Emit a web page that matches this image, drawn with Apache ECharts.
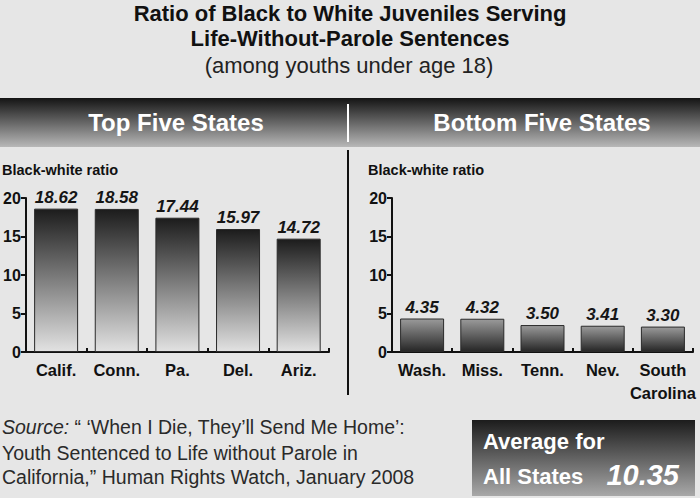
<!DOCTYPE html>
<html>
<head>
<meta charset="utf-8">
<script src="https://cdn.jsdelivr.net/npm/echarts@6/dist/echarts.min.js"></script>
<style>
html,body{margin:0;padding:0;background:#e6e6e6;}
#c{width:700px;height:498px;}
</style>
</head>
<body>
<div id="c"></div>
<script>
var topStates = ['Calif.', 'Conn.', 'Pa.', 'Del.', 'Ariz.'];
var topValues = [18.62, 18.58, 17.44, 15.97, 14.72];
var bottomStates = ['Wash.', 'Miss.', 'Tenn.', 'Nev.', 'South\nCarolina'];
var bottomValues = [4.35, 4.32, 3.50, 3.41, 3.30];
var yMin = 0, yMax = 20, yStep = 5;
var averageAll = 10.35;

var FONT = '"Liberation Sans", Arial, Helvetica, sans-serif';
var chart = echarts.init(document.getElementById('c'), null, {renderer: 'svg', width: 700, height: 498});

function grad(c1, c2) {
  return new echarts.graphic.LinearGradient(0, 0, 0, 1, [{offset: 0, color: c1}, {offset: 1, color: c2}]);
}

function xAx(idx, cats) {
  return {
    type: 'category', gridIndex: idx, data: cats, boundaryGap: true,
    axisLine: {show: true, lineStyle: {color: '#111', width: 2}},
    axisTick: {show: true, inside: true, length: 4, lineStyle: {color: '#111', width: 2}},
    axisLabel: {color: '#111', fontFamily: FONT, fontWeight: 'bold', fontSize: 16.5, margin: 6, lineHeight: 23, interval: 0}
  };
}
function yAx(idx) {
  return {
    type: 'value', gridIndex: idx, min: yMin, max: yMax, interval: yStep,
    axisLine: {show: true, lineStyle: {color: '#111', width: 2}},
    axisTick: {show: true, length: 5, lineStyle: {color: '#111', width: 2}},
    axisLabel: {color: '#111', fontFamily: FONT, fontWeight: 'bold', fontSize: 16, margin: 5},
    splitLine: {show: false}
  };
}
function barSeries(idx, vals, c1, c2) {
  return {
    type: 'bar', xAxisIndex: idx, yAxisIndex: idx, data: vals, barWidth: 44,
    itemStyle: {color: grad(c1, c2), borderColor: '#2a2a2a', borderWidth: 1},
    label: {show: true, position: 'top', distance: 3, color: '#151515', fontFamily: FONT,
      fontWeight: 'bold', fontStyle: 'italic', fontSize: 17,
      formatter: function (p) { return p.value.toFixed(2); }},
    animation: false
  };
}

var option = {
  backgroundColor: '#e6e6e6',
  animation: false,
  grid: [
    {left: 25, right: 371, top: 198, bottom: 146},
    {left: 392, right: 7, top: 198, bottom: 146}
  ],
  xAxis: [xAx(0, topStates), xAx(1, bottomStates)],
  yAxis: [yAx(0), yAx(1)],
  series: [
    barSeries(0, topValues, '#1c1c1c', '#e2e2e2'),
    barSeries(1, bottomValues, '#9a9a9a', '#262626')
  ],
  graphic: [
    {type: 'text', x: 350, y: 13, style: {text: 'Ratio of Black to White Juveniles Serving', font: 'bold 22px ' + FONT, fill: '#111', textAlign: 'center', textVerticalAlign: 'middle'}},
    {type: 'text', x: 350, y: 38, style: {text: 'Life-Without-Parole Sentences', font: 'bold 22px ' + FONT, fill: '#111', textAlign: 'center', textVerticalAlign: 'middle'}},
    {type: 'text', x: 349, y: 65, style: {text: '(among youths under age 18)', font: 'normal 22px ' + FONT, fill: '#222', textAlign: 'center', textVerticalAlign: 'middle'}},
    {type: 'rect', shape: {x: 0, y: 98, width: 700, height: 49}, style: {fill: grad('#141414', '#b8b8b8')}},
    {type: 'line', shape: {x1: 348, y1: 104, x2: 348, y2: 142}, style: {stroke: '#ffffff', lineWidth: 2}},
    {type: 'text', x: 176, y: 122, style: {text: 'Top Five States', font: 'bold 24px ' + FONT, fill: '#ffffff', textAlign: 'center', textVerticalAlign: 'middle'}},
    {type: 'text', x: 542, y: 122, style: {text: 'Bottom Five States', font: 'bold 24px ' + FONT, fill: '#ffffff', textAlign: 'center', textVerticalAlign: 'middle'}},
    {type: 'line', shape: {x1: 348, y1: 150, x2: 348, y2: 395}, style: {stroke: '#111', lineWidth: 2}},
    {type: 'text', x: 2, y: 170, style: {text: 'Black-white ratio', font: 'bold 14.5px ' + FONT, fill: '#111', textAlign: 'left', textVerticalAlign: 'middle'}},
    {type: 'text', x: 368, y: 170, style: {text: 'Black-white ratio', font: 'bold 14.5px ' + FONT, fill: '#111', textAlign: 'left', textVerticalAlign: 'middle'}},
    {type: 'text', x: 2, y: 427, style: {text: '{i|Source:} \u201C \u2018When I Die, They\u2019ll Send Me Home\u2019:', font: 'normal 19.5px ' + FONT, fill: '#2a2a2a', textAlign: 'left', textVerticalAlign: 'middle',
      rich: {i: {fontStyle: 'italic', fontSize: 19.5, fontFamily: FONT, fill: '#2a2a2a'}}}},
    {type: 'text', x: 2, y: 453, style: {text: 'Youth Sentenced to Life without Parole in', font: 'normal 19.5px ' + FONT, fill: '#2a2a2a', textAlign: 'left', textVerticalAlign: 'middle'}},
    {type: 'text', x: 2, y: 477, style: {text: 'California,\u201D Human Rights Watch, January 2008', font: 'normal 19.5px ' + FONT, fill: '#2a2a2a', textAlign: 'left', textVerticalAlign: 'middle'}},
    {type: 'rect', shape: {x: 472, y: 420, width: 223, height: 76}, style: {fill: grad('#1c1c1c', '#a8a8a8')}},
    {type: 'text', x: 483, y: 441, style: {text: 'Average for', font: 'bold 22px ' + FONT, fill: '#ffffff', textAlign: 'left', textVerticalAlign: 'middle'}},
    {type: 'text', x: 483, y: 476, style: {text: 'All States', font: 'bold 22px ' + FONT, fill: '#ffffff', textAlign: 'left', textVerticalAlign: 'middle'}},
    {type: 'text', x: 679, y: 475, style: {text: averageAll.toFixed(2), font: 'italic bold 29px ' + FONT, fill: '#ffffff', textAlign: 'right', textVerticalAlign: 'middle'}}
  ]
};
chart.setOption(option);
</script>
</body>
</html>
